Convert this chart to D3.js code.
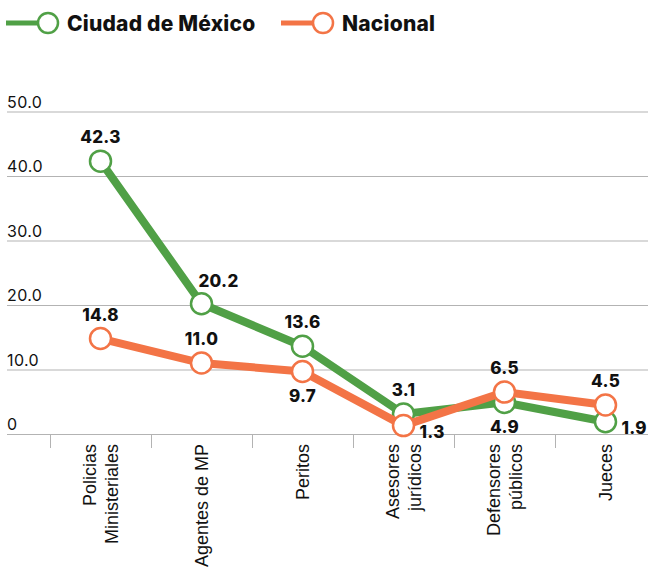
<!DOCTYPE html>
<html>
<head>
<meta charset="utf-8">
<script src="https://cdn.jsdelivr.net/npm/d3@7"></script>
<style>
    body { margin: 0; background: #fff; }
    svg { display: block; }
    .grid line { stroke: #b3b3b3; stroke-width: 1; }
    .ytick { font-family: Inter, sans-serif; font-size: 16px; letter-spacing: 0.4px; fill: #111; }
    .xlabel { font-family: "Liberation Sans", Arial, sans-serif; font-size: 18px; fill: #111; }
    .value { font-family: Inter, sans-serif; font-size: 17px; font-weight: 800; letter-spacing: 0.3px; fill: #111; }
    .legend { font-family: Inter, sans-serif; font-size: 21px; font-weight: 800; letter-spacing: 0.2px; fill: #111; }
</style>
</head>
<body>
<svg id="chart"></svg>
<script>
const categories = [
    ['Policias', 'Ministeriales'],
    ['Agentes de MP'],
    ['Peritos'],
    ['Asesores', 'jurídicos'],
    ['Defensores', 'públicos'],
    ['Jueces']
];
const cdmx = [42.3, 20.2, 13.6, 3.1, 4.9, 1.9];
const nacional = [14.8, 11.0, 9.7, 1.3, 6.5, 4.5];
const yTicks = [0, 10, 20, 30, 40, 50];

// where each value label sits relative to its point
const cdmxPlacement = ['above', 'aboveRight', 'above', 'above', 'below', 'right'];
const nacionalPlacement = ['above', 'above', 'below', 'right', 'above', 'above'];

const props = {
    width: 648,
    height: 570,
    green: '#50a046',
    orange: '#f37446',
    gridLeft: 7,
    plotLeft: 50,
    plotRight: 656,
    top: 111.5,
    bottom: 434
};

const svg = d3.select('#chart')
    .attr('width', props.width)
    .attr('height', props.height);

const x = d3.scaleBand()
    .domain(d3.range(categories.length))
    .range([props.plotLeft, props.plotRight]);

const y = d3.scaleLinear()
    .domain([0, 50])
    .range([props.bottom, props.top]);

function cx(i) { return x(i) + x.bandwidth() / 2; }

// grid lines and y labels
const grid = svg.append('g').attr('class', 'grid');
grid.selectAll('line')
    .data(yTicks)
    .join('line')
    .attr('x1', props.gridLeft)
    .attr('x2', props.width)
    .attr('y1', d => y(d) + 0.5)
    .attr('y2', d => y(d) + 0.5);

svg.append('g').selectAll('text')
    .data(yTicks)
    .join('text')
    .attr('class', 'ytick')
    .attr('x', props.gridLeft)
    .attr('y', d => y(d) - 4)
    .text(d => d === 0 ? '0' : d3.format('.1f')(d));

// category ticks
svg.append('g').attr('class', 'grid')
    .selectAll('line')
    .data(d3.range(categories.length))
    .join('line')
    .attr('x1', d => x(d) + 0.5)
    .attr('x2', d => x(d) + 0.5)
    .attr('y1', props.bottom)
    .attr('y2', props.bottom + 14);

// rotated category labels
const xl = svg.append('g').selectAll('g')
    .data(categories)
    .join('g')
    .attr('transform', (d, i) => 'translate(' + cx(i) + ',' + (props.bottom + 10) + ') rotate(-90)');

xl.each(function(lines) {
    const n = lines.length;
    d3.select(this).selectAll('text')
        .data(lines)
        .join('text')
        .attr('class', 'xlabel')
        .attr('text-anchor', 'end')
        .attr('x', 0)
        .attr('y', (d, j) => (j - (n - 1) / 2) * 22 + 6)
        .text(d => d);
});

const line = d3.line()
    .x((d, i) => cx(i))
    .y(d => y(d));

function drawSeries(values, color) {
    svg.append('path')
        .attr('d', line(values))
        .attr('fill', 'none')
        .attr('stroke', color)
        .attr('stroke-width', 8)
        .attr('stroke-linejoin', 'round');
    svg.append('g').selectAll('circle')
        .data(values)
        .join('circle')
        .attr('cx', (d, i) => cx(i))
        .attr('cy', d => y(d))
        .attr('r', 10.5)
        .attr('fill', '#fff')
        .attr('stroke', color)
        .attr('stroke-width', 2.5);
}

function drawLabels(values, placement) {
    const off = {
        above: [0, -18, 'middle'],
        aboveRight: [17, -17, 'middle'],
        below: [0, 31, 'middle'],
        right: [16, 12, 'start']
    };
    svg.append('g').selectAll('text')
        .data(values)
        .join('text')
        .attr('class', 'value')
        .attr('text-anchor', (d, i) => off[placement[i]][2])
        .attr('x', (d, i) => cx(i) + off[placement[i]][0])
        .attr('y', (d, i) => y(d) + off[placement[i]][1])
        .text(d => d3.format('.1f')(d));
}

drawSeries(cdmx, props.green);
drawSeries(nacional, props.orange);
drawLabels(cdmx, cdmxPlacement);
drawLabels(nacional, nacionalPlacement);

// legend
const legendItems = [
    { name: 'Ciudad de México', color: props.green, x: 6 },
    { name: 'Nacional', color: props.orange, x: 281 }
];
const lg = svg.append('g').selectAll('g')
    .data(legendItems)
    .join('g')
    .attr('transform', d => 'translate(' + d.x + ',23)');
lg.append('line')
    .attr('x1', 0).attr('x2', 34)
    .attr('stroke', d => d.color)
    .attr('stroke-width', 5);
lg.append('circle')
    .attr('cx', 42)
    .attr('r', 10)
    .attr('fill', '#fff')
    .attr('stroke', d => d.color)
    .attr('stroke-width', 2.5);
lg.append('text')
    .attr('class', 'legend')
    .attr('x', 61)
    .attr('y', 7.5)
    .text(d => d.name);
</script>
</body>
</html>
